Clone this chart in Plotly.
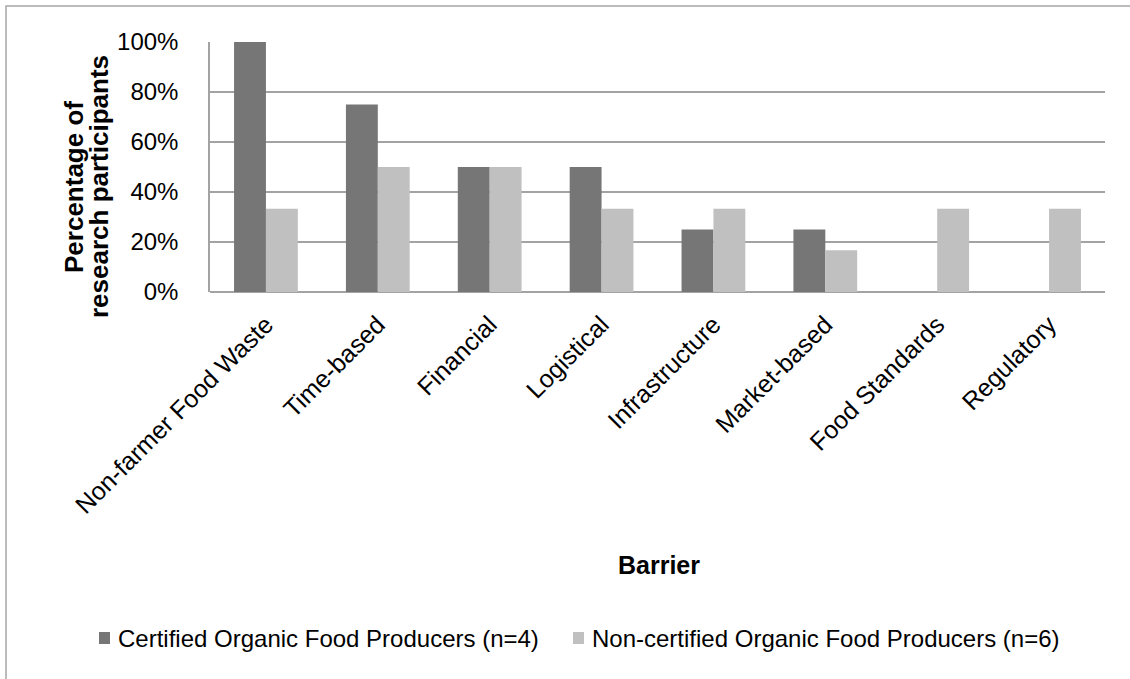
import plotly.graph_objects as go

# Barrier categories and share of participants citing each one (%)
barriers = ["Non-farmer Food Waste", "Time-based", "Financial", "Logistical",
            "Infrastructure", "Market-based", "Food Standards", "Regulatory"]
certified = [100, 75, 50, 50, 25, 25, 0, 0]
non_certified = [33.33, 50, 50, 33.33, 33.33, 16.67, 33.33, 33.33]
y_ticks = [0, 20, 40, 60, 80, 100]
y_tick_labels = ["0%", "20%", "40%", "60%", "80%", "100%"]
series_names = ["Certified Organic Food Producers (n=4)",
                "Non-certified Organic Food Producers (n=6)"]
series_colors = ["#767676", "#C0C0C0"]

FONT = "Liberation Sans, Arial, sans-serif"
GRID = "#A3A3A3"

fig = go.Figure()
for name, vals, col in zip(series_names, [certified, non_certified], series_colors):
    fig.add_trace(go.Bar(x=barriers, y=vals, name=name, showlegend=False,
                         marker=dict(color=col, line=dict(width=0))))

L, R, T, B = 210, 25, 42, 387
W, H = 1130, 679
pw, ph = W - L - R, H - T - B

def px_x(p):
    return (p - L) / pw

def px_y(p):
    return (H - B - p) / ph

fig.update_layout(
    width=W, height=H,
    margin=dict(l=L, r=R, t=T, b=B, autoexpand=False),
    paper_bgcolor="white", plot_bgcolor="white",
    barmode="group", bargap=0.43, bargroupgap=0,
    font=dict(family=FONT, size=24, color="black"),
    xaxis=dict(tickangle=-45, tickfont=dict(size=25, family=FONT), showgrid=False,
               showline=False, ticks="", automargin=False, ticklabelstandoff=12),
    yaxis=dict(range=[0, 100], tickvals=y_ticks, ticktext=y_tick_labels,
               tickfont=dict(size=24, family=FONT), showgrid=True, gridcolor=GRID,
               gridwidth=1.5, showline=True, linecolor=GRID, linewidth=1.5,
               zeroline=True, zerolinecolor=GRID, zerolinewidth=1.5,
               ticks="", ticklabelstandoff=25, automargin=False),
)

# Axis titles
fig.add_annotation(text="<b>Barrier</b>", xref="paper", yref="paper",
                   x=px_x(659), y=px_y(565), showarrow=False,
                   font=dict(size=25, family=FONT), xanchor="center", yanchor="middle")
for line, cx in [("Percentage of", 74), ("research participants", 99)]:
    fig.add_annotation(text=f"<b>{line}</b>", xref="paper", yref="paper",
                       x=px_x(cx), y=px_y(187), showarrow=False, textangle=-90,
                       font=dict(size=26, family=FONT), xanchor="center", yanchor="middle")

# Legend: swatch plus label for each series
legend_y = 638
for name, col, sq_x in zip(series_names, series_colors, [99, 573]):
    fig.add_shape(type="rect", xref="paper", yref="paper",
                  x0=px_x(sq_x), x1=px_x(sq_x + 11), y0=px_y(legend_y + 6), y1=px_y(legend_y - 6),
                  line=dict(width=0), fillcolor=col)
    fig.add_annotation(text=name, xref="paper", yref="paper",
                       x=px_x(sq_x + 17), y=px_y(legend_y), showarrow=False,
                       font=dict(size=24, family=FONT), xanchor="left", yanchor="middle")

# Chart outer frame
fig.add_shape(type="rect", xref="paper", yref="paper",
              x0=px_x(6), x1=px_x(W + 10), y0=px_y(H + 10), y1=px_y(6),
              line=dict(color="#A6A6A6", width=1.5), fillcolor="rgba(0,0,0,0)", layer="below")

fig.write_html("out.html")
